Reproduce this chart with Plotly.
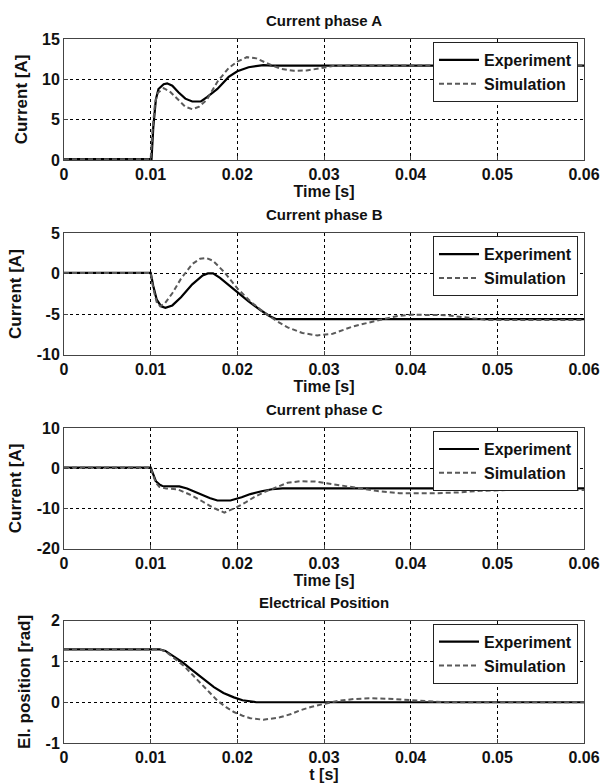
import plotly.graph_objects as go

# ---------------- data ----------------
tA_exp = [0, 0.0101, 0.0103, 0.0106, 0.0109, 0.0115, 0.0119, 0.0125, 0.0132, 0.0140, 0.0148, 0.0158, 0.0165, 0.0177, 0.0190, 0.0200, 0.0213, 0.0230, 0.0240, 0.060]
iA_exp = [0.1, 0.1, 4.0, 7.5, 8.8, 9.4, 9.5, 9.2, 8.4, 7.6, 7.25, 7.25, 7.8, 8.8, 10.3, 11.0, 11.5, 11.75, 11.7, 11.7]
tA_sim = [0, 0.0100, 0.0102, 0.0105, 0.0108, 0.0115, 0.0122, 0.0130, 0.0140, 0.0148, 0.0156, 0.0165, 0.0177, 0.0190, 0.0200, 0.0211, 0.0222, 0.0234, 0.0250, 0.0265, 0.0280, 0.0295, 0.0310, 0.0330, 0.060]
iA_sim = [0.1, 0.1, 3.5, 7.0, 8.3, 8.9, 8.5, 7.6, 6.6, 6.3, 6.6, 7.5, 9.7, 11.4, 12.2, 12.75, 12.6, 12.0, 11.3, 11.05, 11.1, 11.35, 11.65, 11.7, 11.7]

tB_exp = [0, 0.0100, 0.0103, 0.0107, 0.0112, 0.0117, 0.0125, 0.0135, 0.0148, 0.0160, 0.0166, 0.0172, 0.0180, 0.0190, 0.0200, 0.0213, 0.0227, 0.0237, 0.0245, 0.060]
iB_exp = [0.1, 0.1, -1.5, -3.2, -4.0, -4.2, -3.9, -2.9, -1.3, -0.2, 0.05, 0.05, -0.5, -1.4, -2.2, -3.4, -4.5, -5.2, -5.6, -5.6]
tB_sim = [0, 0.0100, 0.0103, 0.0107, 0.0111, 0.0116, 0.0125, 0.0135, 0.0148, 0.0157, 0.0164, 0.0172, 0.0185, 0.0200, 0.0215, 0.0230, 0.0245, 0.0258, 0.0275, 0.0292, 0.0310, 0.0333, 0.0364, 0.0385, 0.0400, 0.0440, 0.0465, 0.0490, 0.060]
iB_sim = [0.1, 0.1, -1.8, -3.5, -4.0, -3.7, -2.4, -0.6, 1.2, 1.85, 1.95, 1.6, 0.2, -1.8, -3.4, -4.7, -5.8, -6.6, -7.3, -7.6, -7.4, -6.5, -5.7, -5.2, -5.05, -5.1, -5.4, -5.7, -5.7]

tC_exp = [0, 0.0100, 0.0103, 0.0106, 0.0110, 0.01135, 0.0125, 0.0133, 0.0142, 0.0155, 0.0168, 0.0177, 0.0192, 0.0205, 0.0215, 0.0228, 0.0240, 0.0252, 0.060]
iC_exp = [0.2, 0.2, -1.5, -3.2, -4.0, -4.4, -4.5, -4.5, -5.0, -6.2, -7.4, -8.0, -8.0, -7.2, -6.4, -5.7, -5.2, -5.0, -5.0]
tC_sim = [0, 0.0100, 0.0103, 0.0106, 0.0110, 0.0118, 0.0131, 0.0145, 0.0158, 0.0172, 0.0185, 0.0200, 0.0210, 0.0219, 0.0230, 0.0242, 0.0258, 0.0273, 0.0290, 0.0300, 0.0317, 0.0334, 0.0360, 0.0387, 0.0427, 0.0455, 0.0480, 0.0510, 0.060]
iC_sim = [0.2, 0.2, -1.8, -3.6, -4.6, -5.0, -5.2, -6.5, -8.0, -9.8, -11.0, -9.6, -8.4, -7.2, -6.0, -5.0, -3.6, -3.2, -3.3, -3.6, -4.2, -4.8, -5.6, -6.2, -6.2, -6.0, -5.6, -5.4, -5.4]

tP_exp = [0, 0.0110, 0.0117, 0.0123, 0.0130, 0.0137, 0.0145, 0.0154, 0.0163, 0.0173, 0.0184, 0.0196, 0.0206, 0.0215, 0.0222, 0.060]
pP_exp = [1.3, 1.3, 1.26, 1.18, 1.09, 0.98, 0.84, 0.69, 0.53, 0.37, 0.23, 0.12, 0.05, 0.02, 0.0, 0.0]
tP_sim = [0, 0.0110, 0.0117, 0.0124, 0.01385, 0.0148, 0.0158, 0.0168, 0.0177, 0.0187, 0.0196, 0.0206, 0.0215, 0.0230, 0.0249, 0.0262, 0.0272, 0.0286, 0.0300, 0.0318, 0.0335, 0.0355, 0.0380, 0.0400, 0.0420, 0.0440, 0.060]
pP_sim = [1.3, 1.3, 1.25, 1.14, 0.89, 0.68, 0.45, 0.24, 0.04, -0.12, -0.24, -0.33, -0.39, -0.43, -0.37, -0.29, -0.2, -0.11, -0.04, 0.04, 0.08, 0.1, 0.08, 0.05, 0.02, 0.0, 0.0]

titles = ["Current phase A", "Current phase B", "Current phase C", "Electrical Position"]
x_titles = ["Time [s]", "Time [s]", "Time [s]", "t [s]"]
y_titles = ["Current [A]", "Current [A]", "Current [A]", "El. position [rad]"]
y_ranges = [[0, 15], [-10, 5], [-20, 10], [-1, 2]]
y_ticks = [[0, 5, 10, 15], [-10, -5, 0, 5], [-20, -10, 0, 10], [-1, 0, 1, 2]]
y_ticklabels = [["0", "5", "10", "15"], ["-10", "-5", "0", "5"],
                ["-20", "-10", "0", "10"], ["-1", "0", "1", "2"]]
x_ticks = [0, 0.01, 0.02, 0.03, 0.04, 0.05, 0.06]
x_ticklabels = ["0", "0.01", "0.02", "0.03", "0.04", "0.05", "0.06"]
series_names = ["Experiment", "Simulation"]

# ---------------- layout geometry ----------------
W, H = 602, 784
ML, MR, MT, MB = 64, 18, 39, 41
domains = [[0.8282, 1.0], [0.5513, 0.7241], [0.2759, 0.4473], [0.0, 0.1736]]

FONT = "Liberation Sans, Arial, sans-serif"
TXT = "#111111"
exp_color = "#000000"
sim_color = "#5a5a5a"

data = [
    (tA_exp, iA_exp, tA_sim, iA_sim),
    (tB_exp, iB_exp, tB_sim, iB_sim),
    (tC_exp, iC_exp, tC_sim, iC_sim),
    (tP_exp, pP_exp, tP_sim, pP_sim),
]

fig = go.Figure()
layout = {}
annotations = []
plot_h = H - MT - MB
plot_w = W - ML - MR
for k in range(4):
    n = "" if k == 0 else str(k + 1)
    te, ye, ts, ys = data[k]
    lg = "legend" + n
    fig.add_trace(go.Scatter(x=te, y=ye, mode="lines", name=series_names[0],
                             line=dict(color=exp_color, width=2.2),
                             xaxis="x" + n, yaxis="y" + n, legend=lg))
    fig.add_trace(go.Scatter(x=ts, y=ys, mode="lines", name=series_names[1],
                             line=dict(color=sim_color, width=2, dash="5px,3px"),
                             xaxis="x" + n, yaxis="y" + n, legend=lg))
    common = dict(showline=True, linecolor="#444", linewidth=1, mirror=True,
                  showgrid=True, gridcolor="#000", griddash="dot", gridwidth=1,
                  zeroline=False, ticks="inside", ticklen=4, tickcolor="#444",
                  tickfont=dict(family=FONT, size=16, color=TXT, weight="bold"),
                  automargin=False)
    layout["xaxis" + n] = dict(domain=[0, 1], anchor="y" + n, range=[0, 0.06],
                               tickvals=x_ticks, ticktext=x_ticklabels,
                               title=dict(text=x_titles[k], standoff=1,
                                          font=dict(family=FONT, size=16, color=TXT, weight="bold")),
                               **common)
    layout["yaxis" + n] = dict(domain=domains[k], anchor="x" + n, range=y_ranges[k],
                               tickvals=y_ticks[k], ticktext=y_ticklabels[k],
                               title=dict(text=y_titles[k], standoff=10,
                                          font=dict(family=FONT, size=17, color=TXT, weight="bold")),
                               **common)
    top = domains[k][1]
    layout[lg] = dict(x=1 - 6 / plot_w, y=top - 3 / plot_h, xanchor="right", yanchor="top",
                      bgcolor="white", bordercolor="#222", borderwidth=1,
                      font=dict(family=FONT, size=16, color=TXT, weight="bold"),
                      tracegroupgap=0, itemwidth=40)
    annotations.append(dict(text=titles[k], x=0.5, y=top, xref="paper", yref="paper",
                            xanchor="center", yanchor="bottom", yshift=8, showarrow=False,
                            font=dict(family=FONT, size=15, color=TXT, weight="bold")))

fig.update_layout(width=W, height=H, margin=dict(l=ML, r=MR, t=MT, b=MB),
                  paper_bgcolor="white", plot_bgcolor="white", showlegend=True,
                  annotations=annotations, **layout)
fig.write_html("out.html", config={"displayModeBar": False},
               post_script="document.body.style.margin='0px';document.body.style.overflow='hidden';")
